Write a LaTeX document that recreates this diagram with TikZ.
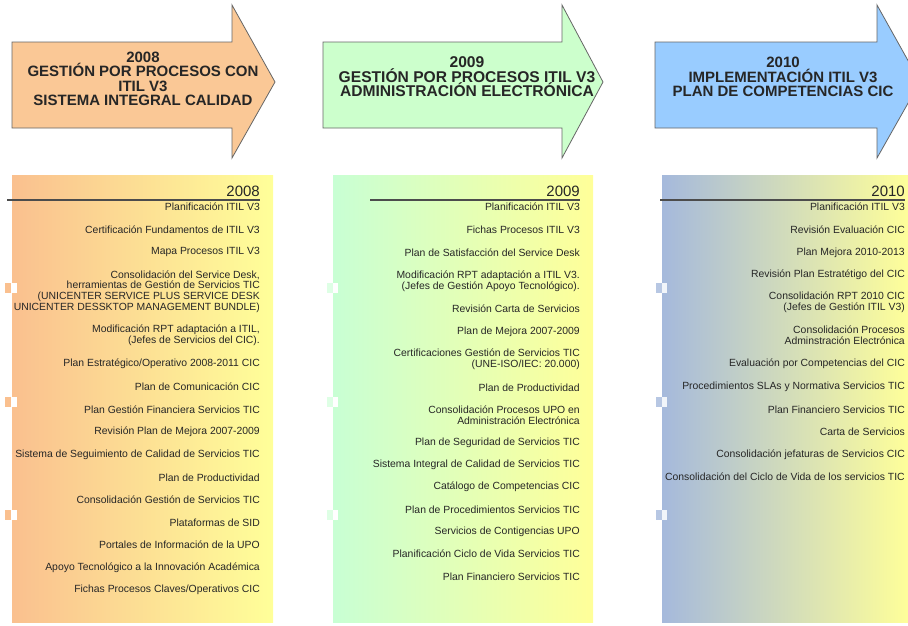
\documentclass[tikz,border=0pt]{standalone}
\usepackage{fontspec}
\newfontfamily\arialfont{Liberation Sans}
\usetikzlibrary{positioning}

\definecolor{peach}{RGB}{250,200,150}
\definecolor{mint}{RGB}{204,255,204}
\definecolor{sky}{RGB}{153,204,255}
\definecolor{peachleft}{RGB}{250,192,143}
\definecolor{mintleft}{RGB}{200,255,212}
\definecolor{skyleft}{RGB}{165,185,220}
\definecolor{paleyellow}{RGB}{255,255,153}

\tikzset{
  arrowbox/.style={draw=black!60, line width=0.8pt},
  head/.style={font=\arialfont\bfseries\fontsize{15}{14.5}\selectfont, align=center, inner sep=0pt, text=black!85},
  year/.style={font=\arialfont\fontsize{15}{15}\selectfont, anchor=east, inner sep=0pt, text=black!85},
  item/.style={font=\arialfont\fontsize{10.4}{10.8}\selectfont, align=right, anchor=east, inner sep=0pt, text=black!85},
  yearline/.style={line width=1.5pt, draw=black!70},
}

\begin{document}
\begin{tikzpicture}[x=1pt, y=-1pt]

    \clip (0,0) rectangle (908,625);
    \fill[white] (0,0) rectangle (908,625);

    \draw[arrowbox, fill=peach] (12,42) -- (232,42) -- (232,5) -- (275,82) -- (232,158) -- (232,128) -- (12,128) -- cycle;
    \draw[arrowbox, fill=mint] (323,42) -- (562,42) -- (562,5) -- (603,82) -- (562,158) -- (562,128) -- (323,128) -- cycle;
    \draw[arrowbox, fill=sky] (655,42) -- (877,42) -- (877,5) -- (920,82) -- (877,158) -- (877,128) -- (655,128) -- cycle;

    \node[head] (h1) at (143,79) {2008\\GESTIÓN POR PROCESOS CON\\ITIL V3\\SISTEMA INTEGRAL CALIDAD};
    \node[head, font=\arialfont\bfseries\fontsize{15.6}{14.5}\selectfont] (h2) at (467,77) {2009\\GESTIÓN POR PROCESOS ITIL V3\\ADMINISTRACIÓN ELECTRÓNICA};
    \node[head] (h3) at (783,77) {2010\\IMPLEMENTACIÓN ITIL V3\\PLAN DE COMPETENCIAS CIC};

    % panels
    \shade[left color=peachleft, right color=paleyellow] (12,175) rectangle (273,622);
    \shade[left color=mintleft, right color=paleyellow] (333,175) rectangle (593,622);
    \shade[left color=skyleft, right color=paleyellow] (662,175) rectangle (910,622);

    \foreach \y in {288,402,515} {
        \fill[peachleft] (5,\y-5) rectangle (11,\y+5);
        \fill[white] (11,\y-5) rectangle (17,\y+5);
        \fill[mintleft!60] (327,\y-5) rectangle (333,\y+5);
        \fill[white] (333,\y-5) rectangle (338,\y+5);
        \fill[skyleft!80] (656,\y-5) rectangle (662,\y+5);
        \fill[white!85!skyleft] (662,\y-5) rectangle (667,\y+5);
    }

    \node[year] (y1) at (260,191) {2008};
    \node[year] (y2) at (580,191) {2009};
    \node[year] (y3) at (905,191) {2010};

    \draw[yearline] (7,200) -- (260,200);
    \draw[yearline] (370,200) -- (580,200);
    \draw[yearline] (660,200) -- (905,200);

    % 2008
    \node[item] (a1) at (260,207) {Planificación ITIL V3};
    \node[item] (a2) at (260,229.5) {Certificación Fundamentos de ITIL V3};
    \node[item] (a3) at (260,252) {Mapa Procesos ITIL V3};
    \node[item] (a4) at (260,291.5) {Consolidación del Service Desk,\\herramientas de Gestión de Servicios TIC\\(UNICENTER SERVICE PLUS SERVICE DESK\\UNICENTER DESSKTOP MANAGEMENT BUNDLE)};
    \node[item] (a5) at (260,335.5) {Modificación RPT adaptación a ITIL,\\(Jefes de Servicios del CIC).};
    \node[item] (a6) at (260,364) {Plan Estratégico/Operativo 2008-2011 CIC};
    \node[item] (a7) at (260,387) {Plan de Comunicación CIC};
    \node[item] (a8) at (260,410) {Plan Gestión Financiera Servicios TIC};
    \node[item] (a9) at (260,432) {Revisión Plan de Mejora 2007-2009};
    \node[item] (a10) at (260,455) {Sistema de Seguimiento de Calidad de Servicios TIC};
    \node[item] (a11) at (260,478) {Plan de Productividad};
    \node[item] (a12) at (260,500) {Consolidación Gestión de Servicios TIC};
    \node[item] (a13) at (260,523) {Plataformas de SID};
    \node[item] (a14) at (260,545) {Portales de Información de la UPO};
    \node[item] (a15) at (260,568) {Apoyo Tecnológico a la Innovación Académica};
    \node[item] (a16) at (260,590) {Fichas Procesos Claves/Operativos CIC};

    % 2009
    \node[item] (b1) at (580,207) {Planificación ITIL V3};
    \node[item] (b2) at (580,230) {Fichas Procesos ITIL V3};
    \node[item] (b3) at (580,253) {Plan de Satisfacción del Service Desk};
    \node[item] (b4) at (580,281.5) {Modificación RPT adaptación a ITIL V3.\\(Jefes de Gestión Apoyo Tecnológico).};
    \node[item] (b5) at (580,309) {Revisión Carta de Servicios};
    \node[item] (b6) at (580,332) {Plan de Mejora 2007-2009};
    \node[item] (b7) at (580,359.5) {Certificaciones Gestión de Servicios TIC\\(UNE-ISO/IEC: 20.000)};
    \node[item] (b8) at (580,388) {Plan de Productividad};
    \node[item] (b9) at (580,415.5) {Consolidación Procesos UPO en\\Administración Electrónica};
    \node[item] (b10) at (580,443) {Plan de Seguridad de Servicios TIC};
    \node[item] (b11) at (580,465) {Sistema Integral de Calidad de Servicios TIC};
    \node[item] (b12) at (580,487) {Catálogo de Competencias CIC};
    \node[item] (b13) at (580,510) {Plan de Procedimientos Servicios TIC};
    \node[item] (b14) at (580,532) {Servicios de Contigencias UPO};
    \node[item] (b15) at (580,554) {Planificación Ciclo de Vida Servicios TIC};
    \node[item] (b16) at (580,577) {Plan Financiero Servicios TIC};

    % 2010
    \node[item] (c1) at (905,207) {Planificación ITIL V3};
    \node[item] (c2) at (905,230) {Revisión Evaluación CIC};
    \node[item] (c3) at (905,253) {Plan Mejora 2010-2013};
    \node[item] (c4) at (905,275) {Revisión Plan Estratétigo del CIC};
    \node[item] (c5) at (905,302.5) {Consolidación RPT 2010 CIC\\(Jefes de Gestión ITIL V3)};
    \node[item] (c6) at (905,335.5) {Consolidación Procesos\\Adminstración Electrónica};
    \node[item] (c7) at (905,364) {Evaluación por Competencias del CIC};
    \node[item] (c8) at (905,387) {Procedimientos SLAs y Normativa Servicios TIC};
    \node[item] (c9) at (905,410) {Plan Financiero Servicios TIC};
    \node[item] (c10) at (905,432) {Carta de Servicios};
    \node[item] (c11) at (905,455) {Consolidación jefaturas de Servicios CIC};
    \node[item] (c12) at (905,477) {Consolidación del Ciclo de Vida de los servicios TIC};

\end{tikzpicture}
\end{document}
